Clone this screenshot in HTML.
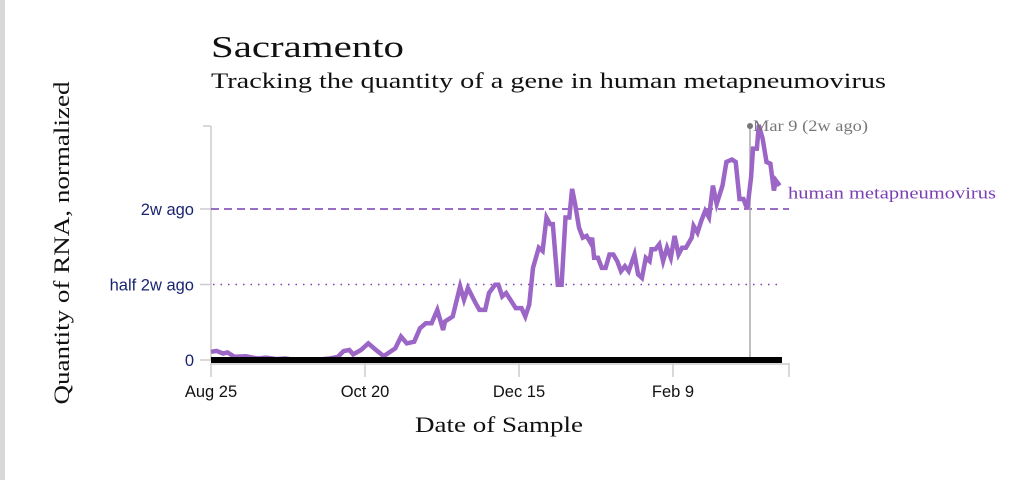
<!DOCTYPE html>
<html><head><meta charset="utf-8"><style>
body{margin:0;background:#fff;width:1036px;height:480px;overflow:hidden}
svg{display:block}
.ser{font-family:"Liberation Serif",serif}
.san{font-family:"Liberation Sans",sans-serif}
</style></head><body>
<svg id="c" width="1036" height="480">
<rect x="0" y="0" width="5" height="480" fill="#d8d8d8"/>
<text x="211" y="57" class="ser" font-size="31" textLength="193" lengthAdjust="spacingAndGlyphs" fill="#111">Sacramento</text>
<text x="211" y="88" class="ser" font-size="22" textLength="675" lengthAdjust="spacingAndGlyphs" fill="#111">Tracking the quantity of a gene in human metapneumovirus</text>
<text transform="translate(69,243) rotate(-90)" text-anchor="middle" class="ser" font-size="22" textLength="323" lengthAdjust="spacingAndGlyphs" fill="#111">Quantity of RNA, normalized</text>
<text x="499" y="432" text-anchor="middle" class="ser" font-size="22" textLength="168" lengthAdjust="spacingAndGlyphs" fill="#111">Date of Sample</text>
<g id="axes"></g>
<g id="marks"></g>
</svg>
<script>
const days=[0,2,4.4,6,8.5,12.7,16.9,20,23.8,27,30.8,34,37.8,43.3,46.1,48.2,50.3,51.7,54.5,57.2,60,62.8,67,69.1,71.2,73.9,76,78.1,80.2,82.3,84.4,85.1,87.9,90.6,92,93.4,96.2,97.6,99.7,101.1,103.3,104.5,105.9,107.3,110.8,112.9,114.3,115.7,117.1,119.2,120.6,122,123.3,124.3,126.1,127.5,128.9,130.3,131.3,132.4,133.8,135.2,136.6,138,138.6,139.3,140.7,142.1,143.5,144.9,146.3,147.7,149.1,150.5,151.9,154,155.3,156.7,158.1,159.5,160.2,161.6,163,164.4,165.8,167.2,168.6,170,171.3,172.7,174.8,175.5,176.9,178.3,179.7,181.1,182.5,183.9,186,187.4,189.4,190.8,192.2,193.6,195,196.4,197.1,198.5,199.2,200.6,202,203.4,204.7,205.4,206.8];
const values=[0.054,0.06,0.043,0.05,0.021,0.025,0.01,0.015,0.006,0.01,0,0.005,0,0.01,0.021,0.059,0.066,0.037,0.066,0.11,0.066,0.026,0.077,0.155,0.11,0.121,0.21,0.243,0.243,0.332,0.199,0.255,0.288,0.488,0.399,0.477,0.377,0.332,0.332,0.444,0.499,0.499,0.421,0.444,0.344,0.344,0.288,0.366,0.61,0.744,0.722,0.944,0.9,0.9,0.499,0.499,0.944,0.944,1.133,1.033,0.877,0.81,0.822,0.777,0.81,0.677,0.677,0.61,0.61,0.699,0.699,0.655,0.588,0.621,0.588,0.699,0.566,0.544,0.677,0.655,0.733,0.733,0.766,0.655,0.744,0.677,0.822,0.699,0.744,0.744,0.81,0.888,0.844,0.922,0.988,0.944,1.155,1.033,1.155,1.311,1.327,1.311,1.066,1.066,1,1.211,1.4,1.4,1.556,1.467,1.311,1.3,1.122,1.189,1.155];
const xTickDays=[0,56,112,168];
const xTickLabels=["Aug 25","Oct 20","Dec 15","Feb 9"];
const yTickValues=[0,0.5,1];
const yTickLabels=["0","half 2w ago","2w ago"];
const refDay=196;
const refLabel="Mar 9 (2w ago)";
const seriesName="human metapneumovirus";

const NS="http://www.w3.org/2000/svg";
const x=d=>211+d*2.75;
const y=v=>360-v*151;
function mk(tag,attrs,parent,text){const e=document.createElementNS(NS,tag);for(const k in attrs)e.setAttribute(k,attrs[k]);if(text!==undefined)e.textContent=text;parent.appendChild(e);return e;}
const ax=document.getElementById('axes'),mg=document.getElementById('marks');

let e=mk('line',{x1:211,y1:126,x2:211,y2:360,stroke:'#ccc','stroke-width':1.5},ax);


e=mk('line',{x1:203,y1:126,x2:211,y2:126,stroke:'#ccc','stroke-width':1.5},ax);


yTickValues.forEach((v,i)=>{
  const t=mk('line',{x1:200,y1:y(v),x2:211,y2:y(v),stroke:'#ccc','stroke-width':1.5},ax);
  
  
  const l=mk('text',{x:194,y:y(v)+6,'text-anchor':'end','font-size':16.5,fill:'#1a2570',class:'san'},ax,yTickLabels[i]);
  
  
});
e=mk('line',{x1:211,y1:364,x2:789,y2:364,stroke:'#ccc','stroke-width':1.5},ax);


xTickDays.forEach((d,i)=>{
  const t=mk('line',{x1:x(d),y1:363,x2:x(d),y2:377,stroke:'#ccc','stroke-width':1.5},ax);
  
  
  const l=mk('text',{x:x(d),y:397,'text-anchor':'middle','font-size':16.5,fill:'#111',class:'san'},ax,xTickLabels[i]);
  
  
});
e=mk('line',{x1:789,y1:363,x2:789,y2:377,stroke:'#ccc','stroke-width':1.5},ax);



e=mk('line',{x1:211,y1:y(1),x2:789,y2:y(1),stroke:'#7a3fb2','stroke-width':1.5,'stroke-dasharray':'8,5'},mg);


e=mk('line',{x1:213,y1:y(0.5),x2:783,y2:y(0.5),stroke:'#7a3fb2','stroke-width':1.5,'stroke-dasharray':'1.5,6'},mg);



e=mk('line',{x1:x(refDay),y1:126,x2:x(refDay),y2:360,stroke:'#aaa','stroke-width':1.5},mg);


e=mk('circle',{cx:x(refDay),cy:126,r:3,fill:'#777'},mg);



const pts=days.map((d,i)=>x(d).toFixed(1)+','+y(values[i]).toFixed(1)).join(' ');
e=mk('polyline',{points:pts,fill:'none',stroke:'#9b66c6','stroke-width':4.5,'stroke-linejoin':'miter'},mg);



e=mk('rect',{x:211,y:357,width:571,height:6,fill:'#000'},mg);



e=mk('text',{x:x(refDay)+3,y:131,'font-size':16,fill:'#777',class:'ser',textLength:115,lengthAdjust:'spacingAndGlyphs'},mg,refLabel);


const lastV=values[values.length-1];
e=mk('text',{x:788,y:y(lastV)+13,'font-size':17,fill:'#7a3fb2',class:'ser',textLength:208,lengthAdjust:'spacingAndGlyphs'},mg,seriesName);


</script>
</body></html>
